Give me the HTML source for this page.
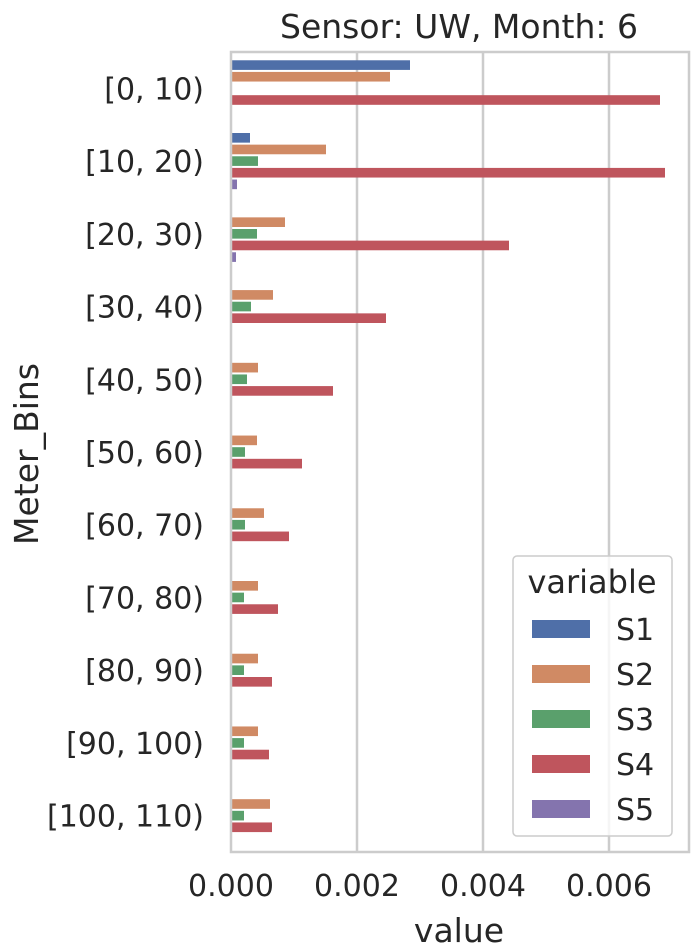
<!DOCTYPE html>
<html><head><meta charset="utf-8"><style>body{margin:0;background:#fff}svg{display:block}text{font-family:"DejaVu Sans","Liberation Sans",sans-serif;fill:#262626}</style></head><body>
<svg width="691" height="950" viewBox="0 0 691 950" xmlns="http://www.w3.org/2000/svg">
<g stroke="#cccccc" stroke-width="2.5">
<line x1="357" y1="52" x2="357" y2="852"/><line x1="483" y1="52" x2="483" y2="852"/><line x1="609" y1="52" x2="609" y2="852"/>
</g>
<g id="bars"></g>
<rect x="231" y="52" width="458" height="800" fill="none" stroke="#cccccc" stroke-width="2.5"/>
<text x="459" y="38" font-size="33" text-anchor="middle">Sensor: UW, Month: 6</text>
<g font-size="30" text-anchor="middle">
<text x="231" y="896">0.000</text><text x="357" y="896">0.002</text><text x="483" y="896">0.004</text><text x="609" y="896">0.006</text>
<text x="459" y="942" font-size="33">value</text>
</g>
<text transform="translate(38,454) rotate(-90)" font-size="33" text-anchor="middle">Meter_Bins</text>
<g font-size="30" text-anchor="end" id="ylab"></g>
<rect x="513" y="556" width="159" height="280" rx="4" fill="#fff" fill-opacity="0.8" stroke="#cccccc" stroke-width="1.5"/>
<text x="592" y="593" font-size="32" text-anchor="middle">variable</text>
<g font-size="30">
<rect x="532" y="620" width="58" height="18" fill="#4f6fa8"/><text x="616" y="640">S1</text>
<rect x="532" y="665" width="58" height="18" fill="#d08a64"/><text x="616" y="685">S2</text>
<rect x="532" y="710" width="58" height="18" fill="#5aa06c"/><text x="616" y="730">S3</text>
<rect x="532" y="755" width="58" height="18" fill="#bf555d"/><text x="616" y="775">S4</text>
<rect x="532" y="800" width="58" height="18" fill="#8474ae"/><text x="616" y="820">S5</text>
</g>
<script>
var d=[[410,390,0,660,0],[250,326,258,665,237],[0,285,257,509,236],[0,273,251,386,0],[0,258,247,333,0],[0,257,245,302,0],[0,264,245,289,0],[0,258,244,278,0],[0,258,244,272,0],[0,258,244,269,0],[0,270,244,272,0]];
var c=["#4f6fa8","#d08a64","#5aa06c","#bf555d","#8474ae"];
var labs=["[0, 10)","[10, 20)","[20, 30)","[30, 40)","[40, 50)","[50, 60)","[60, 70)","[70, 80)","[80, 90)","[90, 100)","[100, 110)"];
var ns="http://www.w3.org/2000/svg",g=document.getElementById("bars"),yl=document.getElementById("ylab");
var step=800/11,bh=step*0.8/5;
for(var i=0;i<11;i++){var cy=52+step*(i+0.5);
for(var j=0;j<5;j++){if(!d[i][j])continue;var r=document.createElementNS(ns,"rect");
r.setAttribute("x",231);r.setAttribute("y",cy-2.5*bh+j*bh+1);r.setAttribute("width",d[i][j]-231);r.setAttribute("height",bh-2);r.setAttribute("fill",c[j]);g.appendChild(r);}
var t=document.createElementNS(ns,"text");t.setAttribute("x",204);t.setAttribute("y",cy+11);t.textContent=labs[i];yl.appendChild(t);}
</script>
</svg>
</body></html>
